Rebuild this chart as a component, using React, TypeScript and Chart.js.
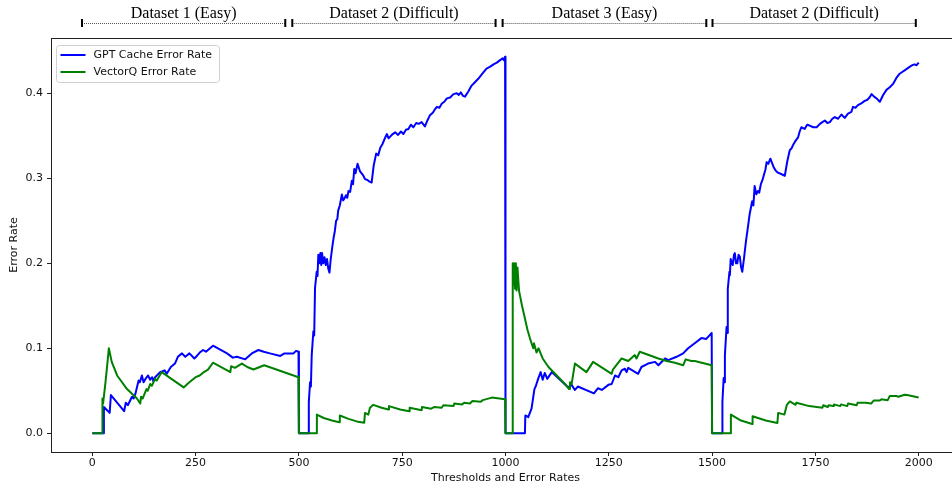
import React, { useEffect, useRef } from "react";
import { Chart, registerables } from "chart.js";

Chart.register(...registerables);

// ---------- data ----------
const xTicks = [0, 250, 500, 750, 1000, 1250, 1500, 1750, 2000];
const yTicks = [0, 0.1, 0.2, 0.3, 0.4];
const seriesLabels = ["GPT Cache Error Rate", "VectorQ Error Rate"];
const seriesColors = ["#0000ff", "#008000"];

const segmentLabels = ["Dataset 1 (Easy)", "Dataset 2 (Difficult)", "Dataset 3 (Easy)", "Dataset 2 (Difficult)"];
const segmentStarts = [-25, 484, 993, 1501];
const segmentEnds = [467, 976, 1486, 1993];

const gptCacheErrorRate: [number, number][] = [
  [0, 0], [27, 0], [28, 0.031], [42, 0.024], [45, 0.045], [77, 0.026], [81, 0.036], [86, 0.033], [96, 0.043], [100, 0.041],
  [104, 0.046], [112, 0.062], [115, 0.06], [120, 0.068], [124, 0.06], [130, 0.065], [135, 0.068], [140, 0.063], [145, 0.066],
  [148, 0.061], [152, 0.066], [164, 0.072], [175, 0.074], [180, 0.07], [190, 0.078], [200, 0.082], [207, 0.09], [217, 0.094],
  [225, 0.09], [235, 0.094], [247, 0.088], [253, 0.091], [260, 0.095], [268, 0.098], [275, 0.096], [292, 0.103], [326, 0.094],
  [340, 0.089], [350, 0.09], [370, 0.087], [386, 0.094], [402, 0.098], [415, 0.096], [430, 0.094], [455, 0.091], [465, 0.094],
  [487, 0.094], [493, 0.097], [499, 0.096],
  [500, 0], [523, 0], [524, 0.037], [527, 0.06], [529, 0.055], [531, 0.092], [535, 0.12], [537, 0.115], [539, 0.171],
  [543, 0.19], [545, 0.185], [547, 0.21], [549, 0.2], [552, 0.212], [554, 0.198], [556, 0.212], [559, 0.2], [562, 0.207],
  [565, 0.198], [568, 0.205], [571, 0.194], [574, 0.189], [577, 0.205], [581, 0.22], [584, 0.23], [587, 0.238], [590, 0.25],
  [593, 0.252], [595, 0.262], [599, 0.268], [604, 0.281], [607, 0.274], [610, 0.276], [614, 0.28], [617, 0.277], [620, 0.285],
  [624, 0.284], [628, 0.297], [631, 0.293], [634, 0.311], [637, 0.306], [642, 0.317], [648, 0.308], [656, 0.303], [660, 0.299],
  [666, 0.298], [671, 0.296], [676, 0.295], [681, 0.315], [687, 0.329], [692, 0.327], [697, 0.336], [702, 0.34], [709, 0.348],
  [713, 0.352], [717, 0.347], [721, 0.349], [727, 0.352], [733, 0.354], [740, 0.351], [747, 0.355], [753, 0.352], [759, 0.357],
  [765, 0.358], [771, 0.363], [777, 0.36], [784, 0.365], [790, 0.364], [797, 0.366], [805, 0.361], [811, 0.368], [817, 0.374],
  [824, 0.377], [829, 0.381], [834, 0.384], [840, 0.383], [846, 0.388], [852, 0.39], [858, 0.394], [866, 0.395], [874, 0.399],
  [882, 0.4], [887, 0.398], [892, 0.401], [897, 0.397], [902, 0.396], [910, 0.402], [918, 0.409], [926, 0.413], [934, 0.417],
  [944, 0.423], [954, 0.429], [962, 0.431], [971, 0.434], [979, 0.436], [987, 0.439], [993, 0.441], [996, 0.439], [999, 0.443],
  [1000, 0], [1047, 0], [1048, 0.021], [1055, 0.019], [1063, 0.029], [1070, 0.052], [1073, 0.055], [1079, 0.064], [1085, 0.072],
  [1090, 0.063], [1095, 0.071], [1101, 0.064], [1112, 0.072], [1152, 0.054], [1160, 0.057], [1168, 0.051], [1175, 0.055],
  [1214, 0.047], [1224, 0.053], [1233, 0.051], [1249, 0.057], [1257, 0.058], [1265, 0.068], [1273, 0.066], [1281, 0.074],
  [1289, 0.076], [1293, 0.072], [1297, 0.077], [1321, 0.07], [1329, 0.078], [1345, 0.082], [1362, 0.084], [1370, 0.08],
  [1386, 0.088], [1394, 0.086], [1414, 0.09], [1430, 0.094], [1442, 0.1], [1458, 0.106], [1474, 0.112], [1486, 0.111], [1499, 0.118],
  [1500, 0], [1524, 0], [1525, 0.037], [1528, 0.065], [1530, 0.06], [1531, 0.092], [1535, 0.125], [1537, 0.118], [1538, 0.17],
  [1542, 0.19], [1543, 0.186], [1545, 0.205], [1548, 0.2], [1550, 0.198], [1553, 0.21], [1555, 0.212], [1558, 0.2], [1561, 0.2],
  [1564, 0.21], [1567, 0.208], [1570, 0.196], [1573, 0.19], [1577, 0.205], [1582, 0.226], [1586, 0.24], [1591, 0.258],
  [1597, 0.273], [1600, 0.268], [1603, 0.291], [1607, 0.281], [1611, 0.285], [1614, 0.283], [1618, 0.293], [1622, 0.298],
  [1626, 0.305], [1629, 0.31], [1632, 0.319], [1636, 0.317], [1641, 0.323], [1645, 0.318], [1649, 0.313], [1654, 0.309],
  [1658, 0.307], [1667, 0.305], [1676, 0.303], [1682, 0.32], [1688, 0.333], [1692, 0.335], [1696, 0.339], [1702, 0.344],
  [1708, 0.348], [1712, 0.355], [1716, 0.36], [1724, 0.358], [1730, 0.363], [1736, 0.362], [1745, 0.36], [1753, 0.36],
  [1761, 0.364], [1767, 0.366], [1773, 0.368], [1779, 0.365], [1785, 0.366], [1791, 0.37], [1797, 0.372], [1805, 0.37],
  [1813, 0.375], [1821, 0.371], [1829, 0.376], [1837, 0.378], [1841, 0.384], [1847, 0.383], [1853, 0.386], [1861, 0.388],
  [1869, 0.391], [1875, 0.392], [1881, 0.395], [1886, 0.399], [1892, 0.396], [1898, 0.394], [1906, 0.39], [1914, 0.398],
  [1922, 0.404], [1930, 0.407], [1938, 0.411], [1946, 0.418], [1954, 0.423], [1960, 0.425], [1966, 0.427], [1972, 0.429],
  [1978, 0.431], [1984, 0.433], [1990, 0.434], [1995, 0.433], [2000, 0.436],
];

const vectorQErrorRate: [number, number][] = [
  [0, 0], [24, 0], [24.5, 0.041], [26, 0.035], [31, 0.056], [35, 0.075], [40, 0.1], [47, 0.084], [60, 0.068], [84, 0.052],
  [108, 0.041], [116, 0.035], [118, 0.043], [122, 0.041], [131, 0.052], [134, 0.05], [140, 0.058], [144, 0.056], [152, 0.064],
  [156, 0.062], [168, 0.072], [221, 0.054], [230, 0.058], [240, 0.062], [250, 0.066], [260, 0.068], [270, 0.072], [280, 0.075],
  [292, 0.083], [334, 0.072], [336, 0.079], [345, 0.077], [362, 0.082], [375, 0.078], [390, 0.075], [416, 0.08], [499, 0.066],
  [500, 0], [543, 0], [543.5, 0.022], [560, 0.018], [580, 0.015], [598, 0.013], [599, 0.021], [620, 0.017], [640, 0.014],
  [658, 0.0125], [660, 0.024], [668, 0.022], [672, 0.03], [680, 0.0335], [700, 0.03], [717, 0.028], [718, 0.032], [745, 0.028],
  [767, 0.026], [768, 0.03], [797, 0.027], [798, 0.031], [820, 0.029], [828, 0.031], [845, 0.03], [850, 0.033], [874, 0.032],
  [876, 0.035], [895, 0.034], [900, 0.036], [914, 0.035], [920, 0.038], [940, 0.037], [945, 0.039], [967, 0.042], [999, 0.04],
  [1000, 0], [1017, 0], [1017.5, 0.2], [1019, 0.175], [1021, 0.2], [1023, 0.17], [1025, 0.2], [1027, 0.168], [1029, 0.195],
  [1031, 0.18], [1033, 0.167], [1040, 0.15], [1047, 0.135], [1053, 0.122], [1059, 0.112], [1067, 0.1], [1069, 0.106],
  [1075, 0.095], [1080, 0.1], [1090, 0.088], [1104, 0.078], [1124, 0.068], [1144, 0.058], [1154, 0.052], [1156, 0.06],
  [1160, 0.058], [1168, 0.082], [1196, 0.072], [1212, 0.084], [1257, 0.07], [1260, 0.075], [1281, 0.088], [1297, 0.085],
  [1313, 0.092], [1317, 0.088], [1325, 0.096], [1370, 0.088], [1390, 0.085], [1410, 0.083], [1430, 0.08], [1436, 0.087],
  [1450, 0.085], [1458, 0.085], [1475, 0.083], [1499, 0.08],
  [1500, 0], [1545, 0], [1545.5, 0.022], [1570, 0.015], [1597, 0.011], [1598, 0.02], [1630, 0.015], [1658, 0.012], [1660, 0.024],
  [1675, 0.022], [1681, 0.0335], [1688, 0.0375], [1702, 0.0335], [1704, 0.036], [1735, 0.032], [1767, 0.03], [1769, 0.033],
  [1780, 0.031], [1782, 0.033], [1793, 0.032], [1795, 0.034], [1810, 0.032], [1812, 0.034], [1827, 0.032], [1829, 0.035],
  [1850, 0.033], [1852, 0.036], [1872, 0.036], [1885, 0.035], [1891, 0.0385], [1906, 0.0385], [1910, 0.04], [1925, 0.039],
  [1930, 0.0438], [1946, 0.0438], [1951, 0.043], [1966, 0.0453], [1972, 0.045], [2000, 0.042],
];

const FONT = "'DejaVu Sans', sans-serif";
const FS = 11;

const overlayPlugin = {
  id: "overlay",
  afterDraw(chart: any) {
    const { ctx, chartArea: a, scales } = chart;
    const xs = scales.x;
    ctx.save();
    // axes box (spines)
    ctx.strokeStyle = "#222";
    ctx.lineWidth = 1;
    ctx.setLineDash([]);
    ctx.strokeRect(Math.round(a.left) + 0.5, Math.round(a.top) + 0.5, Math.round(a.right - a.left), Math.round(a.bottom - a.top));

    // legend
    const lx = a.left + 5.5, ly = a.top + 7.5, lw = 163, lh = 37, r = 3;
    ctx.beginPath();
    ctx.moveTo(lx + r, ly);
    ctx.lineTo(lx + lw - r, ly);
    ctx.quadraticCurveTo(lx + lw, ly, lx + lw, ly + r);
    ctx.lineTo(lx + lw, ly + lh - r);
    ctx.quadraticCurveTo(lx + lw, ly + lh, lx + lw - r, ly + lh);
    ctx.lineTo(lx + r, ly + lh);
    ctx.quadraticCurveTo(lx, ly + lh, lx, ly + lh - r);
    ctx.lineTo(lx, ly + r);
    ctx.quadraticCurveTo(lx, ly, lx + r, ly);
    ctx.closePath();
    ctx.fillStyle = "rgba(255,255,255,0.85)";
    ctx.fill();
    ctx.strokeStyle = "#d0d0d0";
    ctx.stroke();
    ctx.font = `${FS}px ${FONT}`;
    ctx.textBaseline = "middle";
    ctx.textAlign = "left";
    seriesLabels.forEach((lab, i) => {
      const yy = ly + 9.5 + i * 17;
      ctx.strokeStyle = seriesColors[i];
      ctx.lineWidth = 2;
      ctx.beginPath();
      ctx.moveTo(lx + 4, yy);
      ctx.lineTo(lx + 29, yy);
      ctx.stroke();
      ctx.fillStyle = "#111";
      ctx.fillText(lab, lx + 37, yy);
    });

    // dataset brackets on top
    ctx.font = "16px 'Liberation Serif', 'Times New Roman', serif";
    ctx.textAlign = "center";
    ctx.textBaseline = "alphabetic";
    segmentLabels.forEach((lab, i) => {
      const x1 = xs.getPixelForValue(segmentStarts[i]);
      const x2 = xs.getPixelForValue(segmentEnds[i]);
      ctx.strokeStyle = "#555";
      ctx.lineWidth = 1;
      ctx.setLineDash([1, 1]);
      ctx.beginPath();
      ctx.moveTo(x1, 23.5);
      ctx.lineTo(x2, 23.5);
      ctx.stroke();
      ctx.setLineDash([]);
      ctx.strokeStyle = "#000";
      ctx.lineWidth = 2;
      ctx.beginPath();
      ctx.moveTo(x1, 19);
      ctx.lineTo(x1, 27);
      ctx.moveTo(x2, 19);
      ctx.lineTo(x2, 27);
      ctx.stroke();
      ctx.fillStyle = "#000";
      ctx.fillText(lab, (x1 + x2) / 2, 17.5);
    });
    ctx.restore();
  },
};

export default function App() {
  const ref = useRef<HTMLCanvasElement | null>(null);

  useEffect(() => {
    if (!ref.current) return;
    const series = [gptCacheErrorRate, vectorQErrorRate];
    const chart = new Chart(ref.current, {
      type: "line",
      data: {
        datasets: series.map((s, i) => ({
          label: seriesLabels[i],
          data: s.map(([x, y]) => ({ x, y })),
          borderColor: seriesColors[i],
          backgroundColor: seriesColors[i],
          borderWidth: 2,
          borderJoinStyle: "round",
          borderCapStyle: "butt",
          pointRadius: 0,
          tension: 0,
          fill: false,
          order: i === 0 ? 1 : 0,
        })),
      },
      options: {
        responsive: false,
        animation: false,
        devicePixelRatio: 1,
        layout: { padding: { top: 38, right: 10, left: 0, bottom: 0 } },
        plugins: { legend: { display: false }, tooltip: { enabled: false } },
        scales: {
          x: {
            type: "linear",
            min: -100,
            max: 2100,
            afterBuildTicks: (s: any) => {
              s.ticks = xTicks.map((v) => ({ value: v }));
            },
            afterFit: (s: any) => {
              s.height = 37;
            },
            ticks: {
              autoSkip: false,
              maxRotation: 0,
              padding: 1,
              color: "#111",
              font: { family: FONT, size: FS },
              callback: (v: any) => String(v),
            },
            grid: { drawOnChartArea: false, drawTicks: true, tickLength: 4, color: "#222", lineWidth: 1 },
            border: { display: false },
            title: {
              display: true,
              text: "Thresholds and Error Rates",
              color: "#111",
              font: { family: FONT, size: FS },
              padding: { top: 0, bottom: 4.5 },
            },
          },
          y: {
            type: "linear",
            min: -0.022,
            max: 0.465,
            afterBuildTicks: (s: any) => {
              s.ticks = yTicks.map((v) => ({ value: v }));
            },
            afterFit: (s: any) => {
              s.width = 51;
            },
            ticks: {
              autoSkip: false,
              padding: 4,
              color: "#111",
              font: { family: FONT, size: FS },
              callback: (v: any) => Number(v).toFixed(1),
            },
            grid: { drawOnChartArea: false, drawTicks: true, tickLength: 4, color: "#222", lineWidth: 1 },
            border: { display: false },
            title: {
              display: true,
              text: "Error Rate",
              color: "#111",
              font: { family: FONT, size: FS },
              padding: { top: 7.5, bottom: 0 },
            },
          },
        },
      },
      plugins: [overlayPlugin],
    } as any);
    return () => chart.destroy();
  }, []);

  return (
    <div
      style={{
        position: "fixed",
        left: 0,
        top: 0,
        width: 952,
        height: 489,
        overflow: "hidden",
        background: "#fff",
      }}
    >
      <canvas ref={ref} width={970} height={489} style={{ display: "block", width: 970, height: 489 }} />
    </div>
  );
}
